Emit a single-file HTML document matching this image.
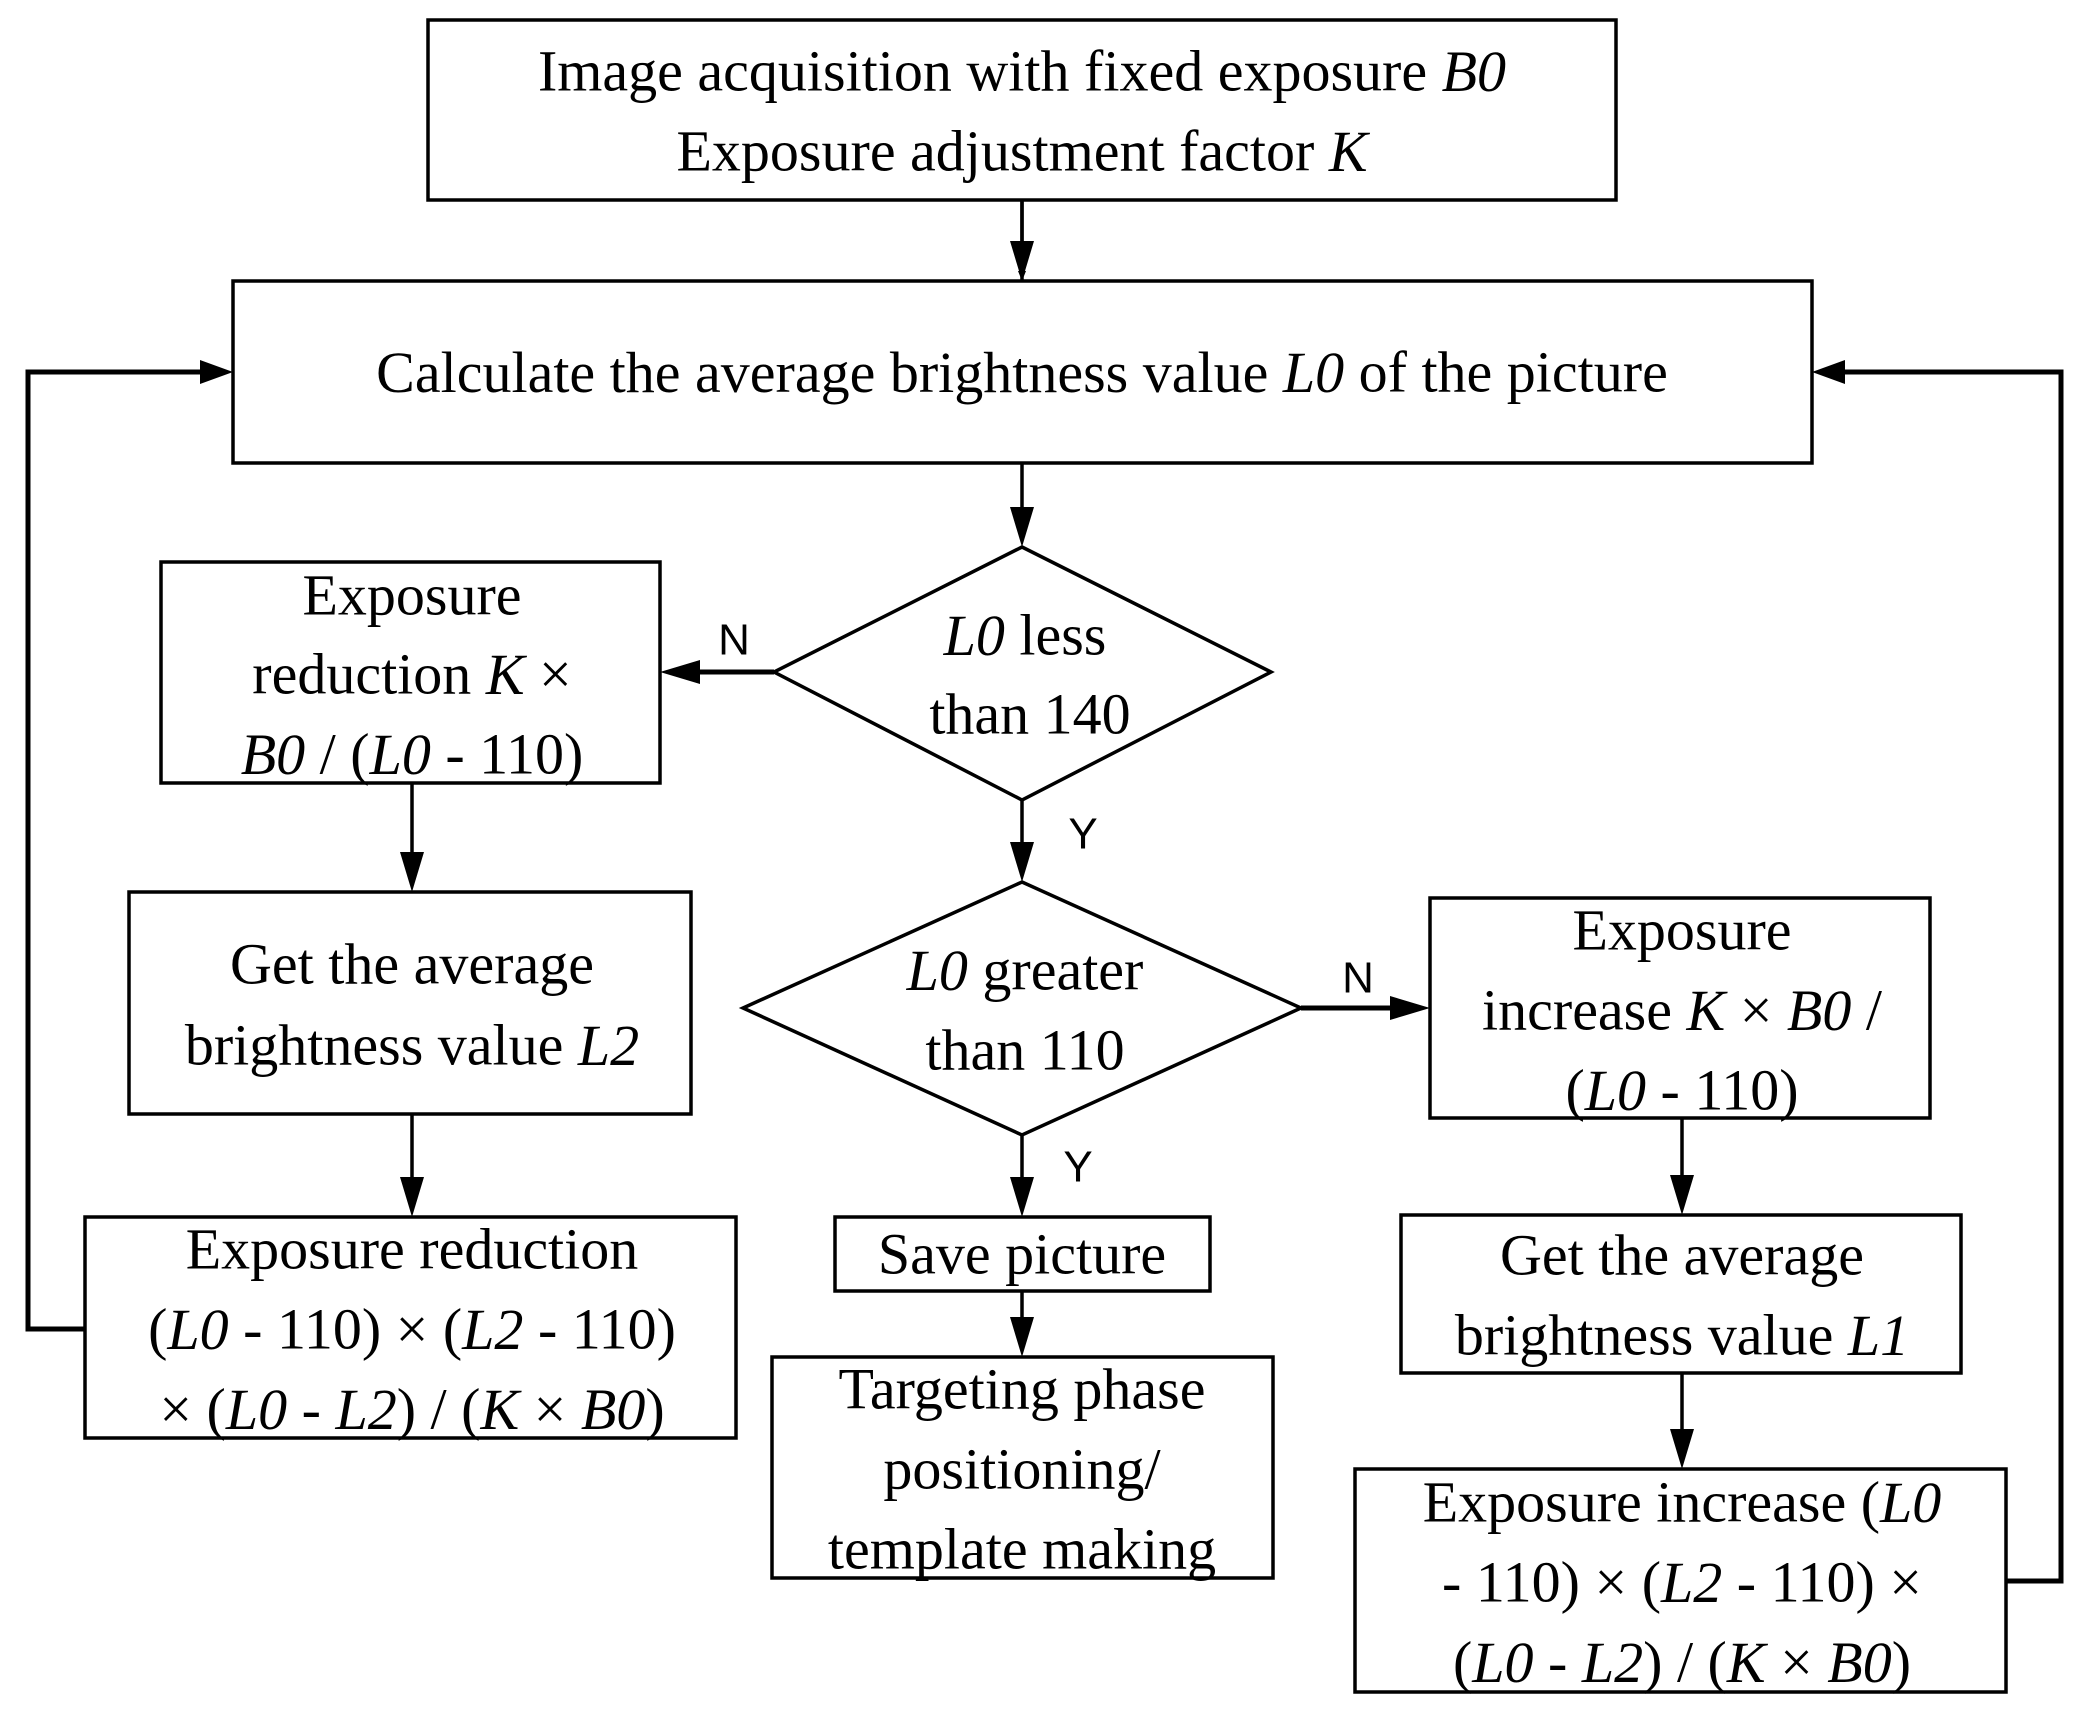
<!DOCTYPE html>
<html><head><meta charset="utf-8"><style>
html,body{margin:0;padding:0;background:#fff}
svg text{font-family:"Liberation Serif",serif;font-size:58px;fill:#000}
.i{font-style:italic}
.s{font-family:"Liberation Sans",sans-serif;font-size:44px}
</style></head><body>
<svg width="2085" height="1721" viewBox="0 0 2085 1721" xmlns="http://www.w3.org/2000/svg">
<defs><marker id="a" markerWidth="10" markerHeight="8" refX="10" refY="4" orient="auto" markerUnits="userSpaceOnUse" viewBox="0 0 10 8"><path d="M0,0L10,4L0,8z" fill="#000"/></marker></defs>
<g fill="none" stroke="#000" stroke-width="3.5">
<rect x="428" y="20" width="1188" height="180"/>
<rect x="233" y="281" width="1579" height="182"/>
<polygon points="1022,547 1271,672 1022,800 774,672"/>
<rect x="161" y="562" width="499" height="221"/>
<polygon points="1022,882 1301,1008 1022,1135 743,1008"/>
<rect x="1430" y="898" width="500" height="220"/>
<rect x="129" y="892" width="562" height="222"/>
<rect x="85" y="1217" width="651" height="221"/>
<rect x="835" y="1217" width="375" height="74"/>
<rect x="772" y="1357" width="501" height="221"/>
<rect x="1401" y="1215" width="560" height="158"/>
<rect x="1355" y="1469" width="651" height="223"/>
</g>
<g stroke="#000" stroke-width="3.5" fill="none">
<path d="M1022 200V281" marker-end="url(#a)" style="marker-end:url(#a)"/>
</g>
<g fill="#000">
<!-- arrowheads as polygons -->
<polygon points="1010,241 1034,241 1022,281"/>
<polygon points="1010,507 1034,507 1022,547"/>
<polygon points="1010,842 1034,842 1022,882"/>
<polygon points="1010,1177 1034,1177 1022,1217"/>
<polygon points="1010,1317 1034,1317 1022,1357"/>
<polygon points="400,852 424,852 412,892"/>
<polygon points="400,1177 424,1177 412,1217"/>
<polygon points="1670,1175 1694,1175 1682,1215"/>
<polygon points="1670,1429 1694,1429 1682,1469"/>
<polygon points="660,672 700,660 700,684"/>
<polygon points="1430,1008 1390,996 1390,1020"/>
<polygon points="233,372 200,360 200,384"/>
<polygon points="1812,372 1845,360 1845,384"/>
</g>
<g stroke="#000" stroke-width="3.5" fill="none">
<path d="M1022 200V245M1022 463V510M1022 800V845M1022 1135V1180M1022 1291V1320M412 783V855M412 1114V1180M1682 1118V1178M1682 1373V1432"/>
<path d="M774 672H698M1301 1008H1392" stroke-width="5"/>
<path d="M85 1329H28V372H203M2006 1581H2061V372H1843" stroke-width="5"/>
</g>
<g text-anchor="middle" dominant-baseline="central">
<text x="1022" y="71">Image acquisition with fixed exposure <tspan class="i">B0</tspan></text>
<text x="1022" y="151">Exposure adjustment factor <tspan class="i">K</tspan></text>
<text x="1022" y="372"><tspan>Calculate the average brightness value </tspan><tspan class="i">L0</tspan> of the picture</text>
<text x="1025" y="635"><tspan class="i">L0</tspan> less</text>
<text x="1030" y="714">than 140</text>
<text x="412" y="595">Exposure</text>
<text x="412" y="674">reduction <tspan class="i">K</tspan> ×</text>
<text x="412" y="754"><tspan class="i">B0</tspan> / (<tspan class="i">L0</tspan> - 110)</text>
<text x="1025" y="970"><tspan class="i">L0</tspan> greater</text>
<text x="1025" y="1050">than 110</text>
<text x="1682" y="930">Exposure</text>
<text x="1682" y="1010">increase <tspan class="i">K</tspan> × <tspan class="i">B0</tspan> /</text>
<text x="1682" y="1090">(<tspan class="i">L0</tspan> - 110)</text>
<text x="412" y="964">Get the average</text>
<text x="412" y="1045">brightness value <tspan class="i">L2</tspan></text>
<text x="412" y="1249">Exposure reduction</text>
<text x="412" y="1329">(<tspan class="i">L0</tspan> - 110) × (<tspan class="i">L2</tspan> - 110)</text>
<text x="412" y="1409">× (<tspan class="i">L0</tspan> - <tspan class="i">L2</tspan>) / (<tspan class="i">K</tspan> × <tspan class="i">B0</tspan>)</text>
<text x="1022" y="1254">Save picture</text>
<text x="1022" y="1389">Targeting phase</text>
<text x="1022" y="1469">positioning/</text>
<text x="1022" y="1549">template making</text>
<text x="1682" y="1255">Get the average</text>
<text x="1682" y="1335">brightness value <tspan class="i">L1</tspan></text>
<text x="1682" y="1502">Exposure increase (<tspan class="i">L0</tspan></text>
<text x="1682" y="1582">- 110) × (<tspan class="i">L2</tspan> - 110) ×</text>
<text x="1682" y="1662">(<tspan class="i">L0</tspan> - <tspan class="i">L2</tspan>) / (<tspan class="i">K</tspan> ×  <tspan class="i">B0</tspan>)</text>
<text class="s" x="734" y="640">N</text>
<text class="s" x="1083" y="834">Y</text>
<text class="s" x="1358" y="978">N</text>
<text class="s" x="1078" y="1167">Y</text>
</g>
</svg>
</body></html>
